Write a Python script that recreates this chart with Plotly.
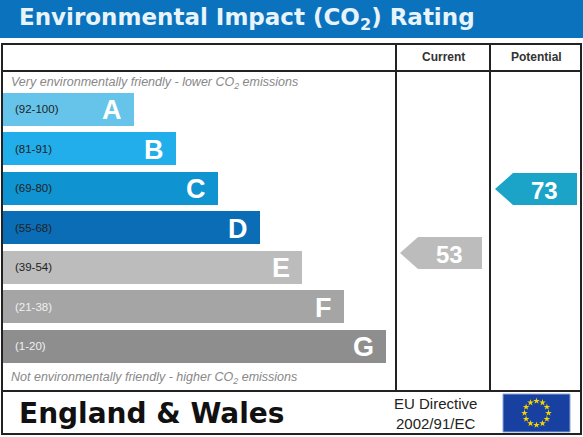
import plotly.graph_objects as go
import math

bands = ["A", "B", "C", "D", "E", "F", "G"]
ranges = ["(92-100)", "(81-91)", "(69-80)", "(55-68)", "(39-54)", "(21-38)", "(1-20)"]
band_lo = [92, 81, 69, 55, 39, 21, 1]
colors = ["#66c4ea", "#22aeea", "#0f93d1", "#0a6db6", "#bcbcbc", "#a5a5a5", "#8e8e8e"]
current = 53
potential = 73

W, H = 583, 437
fig = go.Figure()
shapes = []
ann = []
F = "Liberation Sans"
D = "DejaVu Sans"
shapes.append(dict(type="rect", x0=0, x1=W, y0=0, y1=38, fillcolor="#0b72bd", line_width=0, layer="below"))
ann.append(dict(x=17, y=19, text="<b>Environmental Impact (CO<sub>2</sub>) Rating</b>", showarrow=False, xanchor="left",
                font=dict(family=D, size=23, color="#e8f4fb")))
lc = "#222"
shapes.append(dict(type="rect", x0=2, x1=581, y0=44, y1=434, line=dict(color=lc, width=2)))
shapes.append(dict(type="line", x0=2, x1=581, y0=71, y1=71, line=dict(color=lc, width=2)))
shapes.append(dict(type="line", x0=2, x1=581, y0=391, y1=391, line=dict(color=lc, width=2)))
for x in (396, 490):
    shapes.append(dict(type="line", x0=x, x1=x, y0=44, y1=391, line=dict(color=lc, width=2)))
ann.append(dict(x=443, y=57, text="<b>Current</b>", showarrow=False, font=dict(family=F, size=12, color="#333")))
ann.append(dict(x=536, y=57, text="<b>Potential</b>", showarrow=False, font=dict(family=F, size=12, color="#333")))
ann.append(dict(x=9, y=83, text="<i>Very environmentally friendly - lower CO<sub>2</sub> emissions</i>", showarrow=False, xanchor="left",
                font=dict(family=F, size=12.5, color="#888")))
ann.append(dict(x=9, y=378, text="<i>Not environmentally friendly - higher CO<sub>2</sub> emissions</i>", showarrow=False, xanchor="left",
                font=dict(family=F, size=12.5, color="#888")))

row_y = [109 + 39.5 * i for i in range(len(bands))]
lengths = [134 + 42 * i - 2 for i in range(len(bands))]
fig.add_trace(go.Bar(y=row_y, x=lengths, base=2, orientation="h", width=33,
                     marker=dict(color=colors, line_width=0), hoverinfo="skip"))
for i, b in enumerate(bands):
    ann.append(dict(x=13, y=row_y[i], text=ranges[i], showarrow=False, xanchor="left",
                    font=dict(family=F, size=11.5, color="#222" if i < 5 else "#f0f0f0")))
    ann.append(dict(x=2 + lengths[i] - 10, y=row_y[i] + 1, text="<b>" + b + "</b>", showarrow=False, xanchor="right",
                    font=dict(family=F, size=27, color="white")))

def band_index(v):
    for i, lo in enumerate(band_lo):
        if v >= lo:
            return i
    return len(bands) - 1

def arrow(v, x0, x1, col, yoff):
    yc = row_y[band_index(v)] + yoff
    h = 16
    xs = [x0, x0 + 18, x1, x1, x0 + 18, x0]
    ys = [yc, yc - h, yc - h, yc + h, yc + h, yc]
    fig.add_trace(go.Scatter(x=xs, y=ys, fill="toself", fillcolor=col, line=dict(width=0), mode="lines", hoverinfo="skip"))
    ann.append(dict(x=(x0 + x1) / 2 + 8, y=yc + 1, text="<b>%d</b>" % v, showarrow=False,
                    font=dict(family=F, size=24, color="white")))

arrow(current, 400, 482, "#bcbcbc", -14)
arrow(potential, 495, 577, "#1ba4c8", 1)

ann.append(dict(x=17, y=413, text="<b>England & Wales</b>", showarrow=False, xanchor="left",
                font=dict(family=D, size=28, color="#111")))
ann.append(dict(x=435, y=403, text="EU Directive", showarrow=False, font=dict(family=F, size=15, color="#222")))
ann.append(dict(x=435, y=423, text="2002/91/EC", showarrow=False, font=dict(family=F, size=15, color="#222")))
shapes.append(dict(type="rect", x0=503, x1=570, y0=394, y1=432, fillcolor="#1740a0", line=dict(color="#8fa6d6", width=1), layer="below"))
sx = [536.5 + 12 * math.cos(2 * math.pi * k / 12) for k in range(12)]
sy = [413 + 12 * math.sin(2 * math.pi * k / 12) for k in range(12)]
fig.add_trace(go.Scatter(x=sx, y=sy, mode="markers", marker=dict(symbol="star", size=5, color="#f5d400"), hoverinfo="skip"))

fig.update_layout(width=W, height=H, margin=dict(l=0, r=0, t=0, b=0), showlegend=False,
                  paper_bgcolor="white", plot_bgcolor="rgba(0,0,0,0)", shapes=shapes, annotations=ann,
                  xaxis=dict(range=[0, W], visible=False, fixedrange=True),
                  yaxis=dict(range=[H, 0], visible=False, fixedrange=True), bargap=0)
fig.write_html("out.html", config={"displayModeBar": False},
               post_script="document.body.style.margin='0';document.body.style.overflow='hidden';")
